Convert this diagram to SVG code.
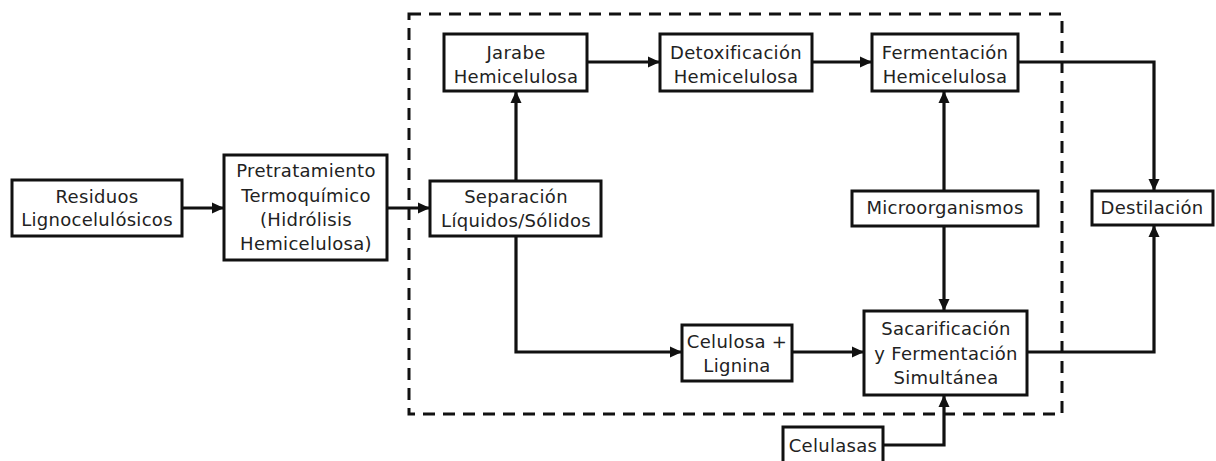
<svg xmlns="http://www.w3.org/2000/svg" width="1216" height="461" viewBox="0 0 1216 461">
<style>
.box{fill:#fff;stroke:#111;stroke-width:3}
.t{font-family:"DejaVu Sans",sans-serif;font-size:18px;fill:#222;text-anchor:middle;letter-spacing:0.3px}
.c{fill:none;stroke:#111;stroke-width:3.2}
.dash{fill:none;stroke:#111;stroke-width:3;stroke-dasharray:12 8}
</style>
<defs>
<marker id="ah" markerUnits="userSpaceOnUse" markerWidth="13" markerHeight="13" refX="12" refY="6.5" orient="auto">
<path d="M0,1 L12,6.5 L0,12 z" fill="#111"/>
</marker>
</defs>
<rect width="1216" height="461" fill="#fff"/>
<rect class="dash" x="409" y="14" width="653" height="400"/>
<g id="connectors">
<path class="c" d="M182,208 H224" marker-end="url(#ah)"/>
<path class="c" d="M387,208 H430" marker-end="url(#ah)"/>
<path class="c" d="M516,181 V91" marker-end="url(#ah)"/>
<path class="c" d="M587,62 H660" marker-end="url(#ah)"/>
<path class="c" d="M812,62 H872" marker-end="url(#ah)"/>
<path class="c" d="M1018,62 H1154 V191" marker-end="url(#ah)"/>
<path class="c" d="M944,191 V91" marker-end="url(#ah)"/>
<path class="c" d="M944,226 V311" marker-end="url(#ah)"/>
<path class="c" d="M516,236 V352 H682" marker-end="url(#ah)"/>
<path class="c" d="M792,352 H864" marker-end="url(#ah)"/>
<path class="c" d="M1027,352 H1154 V225" marker-end="url(#ah)"/>
<path class="c" d="M883,445 H944 V395" marker-end="url(#ah)"/>
</g>
<g id="residuos"><rect class="box" x="12" y="180" width="170" height="56"/>
<text class="t" x="97" y="203">Residuos</text><text class="t" x="97" y="226">Lignocelulósicos</text></g>
<g id="pretratamiento"><rect class="box" x="224" y="155" width="163" height="105"/>
<text class="t" x="306" y="177">Pretratamiento</text><text class="t" x="306" y="202">Termoquímico</text><text class="t" x="306" y="226">(Hidrólisis</text><text class="t" x="306" y="250">Hemicelulosa)</text></g>
<g id="separacion"><rect class="box" x="430" y="181" width="171" height="55"/>
<text class="t" x="516" y="203">Separación</text><text class="t" x="516" y="227">Líquidos/Sólidos</text></g>
<g id="jarabe"><rect class="box" x="444" y="34" width="143" height="57"/>
<text class="t" x="516" y="59">Jarabe</text><text class="t" x="516" y="83">Hemicelulosa</text></g>
<g id="detox"><rect class="box" x="660" y="34" width="152" height="57"/>
<text class="t" x="736" y="59">Detoxificación</text><text class="t" x="736" y="83">Hemicelulosa</text></g>
<g id="fermentacion"><rect class="box" x="872" y="34" width="146" height="57"/>
<text class="t" x="945" y="59">Fermentación</text><text class="t" x="945" y="83">Hemicelulosa</text></g>
<g id="microorganismos"><rect class="box" x="852" y="191" width="186" height="35"/>
<text class="t" x="945" y="214">Microorganismos</text></g>
<g id="destilacion"><rect class="box" x="1092" y="191" width="121" height="34"/>
<text class="t" x="1152" y="214">Destilación</text></g>
<g id="celulosa"><rect class="box" x="682" y="325" width="110" height="56"/>
<text class="t" x="737" y="348">Celulosa +</text><text class="t" x="737" y="372">Lignina</text></g>
<g id="ssf"><rect class="box" x="864" y="311" width="163" height="84"/>
<text class="t" x="946" y="335">Sacarificación</text><text class="t" x="946" y="360">y Fermentación</text><text class="t" x="946" y="384">Simultánea</text></g>
<g id="celulasas"><rect class="box" x="783" y="427" width="100" height="42"/>
<text class="t" x="833" y="452">Celulasas</text></g>
</svg>
